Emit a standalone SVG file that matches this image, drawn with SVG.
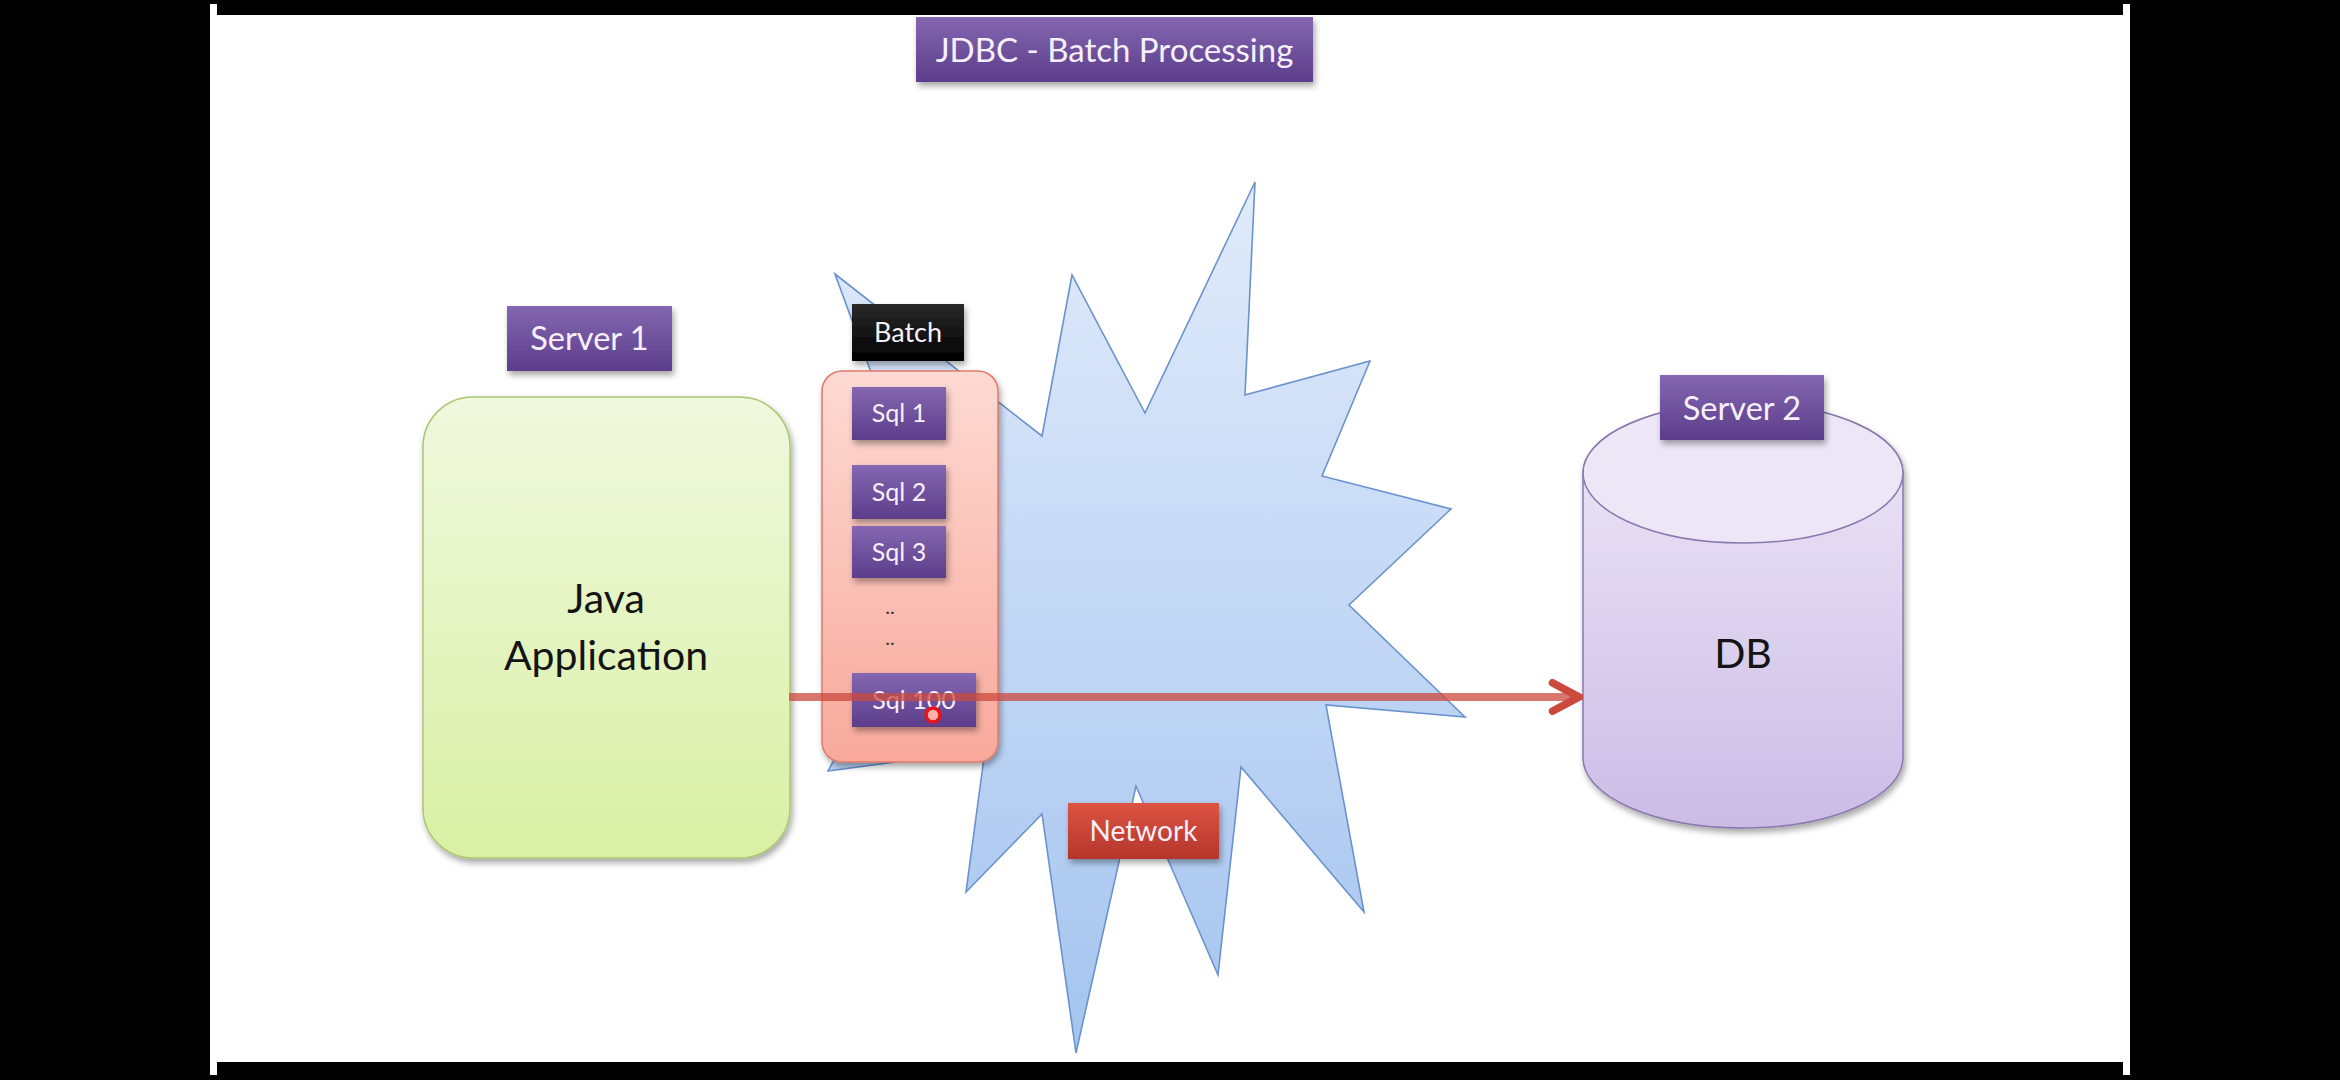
<svg xmlns="http://www.w3.org/2000/svg" width="2340" height="1080" viewBox="0 0 2340 1080">
  <defs>
    <linearGradient id="gPurple" x1="0" y1="0" x2="0" y2="1">
      <stop offset="0" stop-color="#8467b0"/>
      <stop offset="1" stop-color="#5c3d8b"/>
    </linearGradient>
    <linearGradient id="gRed" x1="0" y1="0" x2="0" y2="1">
      <stop offset="0" stop-color="#dc5443"/>
      <stop offset="1" stop-color="#b5352a"/>
    </linearGradient>
    <linearGradient id="gBlack" x1="0" y1="0" x2="0" y2="1">
      <stop offset="0" stop-color="#2a2a2a"/>
      <stop offset="1" stop-color="#000000"/>
    </linearGradient>
    <linearGradient id="gGreen" x1="0" y1="0" x2="0" y2="1">
      <stop offset="0" stop-color="#f0f8de"/>
      <stop offset="1" stop-color="#d9f0a4"/>
    </linearGradient>
    <linearGradient id="gPink" x1="0" y1="0" x2="0" y2="1">
      <stop offset="0" stop-color="#fddad3"/>
      <stop offset="1" stop-color="#f8a99c"/>
    </linearGradient>
    <linearGradient id="gBlue" x1="0" y1="0" x2="0" y2="1">
      <stop offset="0" stop-color="#e1ebfb"/>
      <stop offset="1" stop-color="#a4c4ef"/>
    </linearGradient>
    <linearGradient id="gLav" x1="0" y1="0" x2="0" y2="1">
      <stop offset="0" stop-color="#eee8f7"/>
      <stop offset="1" stop-color="#cbbce6"/>
    </linearGradient>
    <filter id="shadow" x="-10%" y="-20%" width="130%" height="160%">
      <feDropShadow dx="2" dy="4" stdDeviation="3" flood-color="#000" flood-opacity="0.35"/>
    </filter>
    <marker id="chev" viewBox="0 0 10 10" refX="9" refY="5" markerWidth="4.4" markerHeight="4.4" markerUnits="strokeWidth" orient="auto">
      <path d="M1.5,1 L9,5 L1.5,9" fill="none" stroke="#cb4a3e" stroke-width="2.2" stroke-linecap="round" stroke-linejoin="miter"/>
    </marker>
    <style>
      .lbl { font-family: Lato, "Noto Sans", "Liberation Sans", sans-serif; fill: #f6f0fb; text-anchor: middle; }
      .big { font-family: Lato, "Noto Sans", "Liberation Sans", sans-serif; fill: #141414; text-anchor: middle; font-size: 41px; }
      .tag { fill: url(#gPurple); filter: url(#shadow); }
      .sql { fill: url(#gPurple); filter: url(#shadow); }
      .sqlt { font-size: 25px; }
    </style>
  </defs>

  <!-- frame -->
  <rect x="0" y="0" width="2340" height="1080" fill="#000"/>
  <rect x="210" y="15" width="1920" height="1047" fill="#fff"/>
  <rect x="210" y="4" width="7" height="1071" fill="#fff"/>
  <rect x="2123" y="4" width="7" height="1071" fill="#fff"/>

  <!-- network starburst -->
  <g id="network-burst">
    <polygon points="835,274 1042,436 1072,275 1145,413 1255,182 1245,395 1370,361 1322,476 1451,509 1349,605 1465,717 1326,705 1364,912 1241,767 1218,975 1136,786 1076,1053 1042,814 966,892 985,750 828,771 940,560" fill="url(#gBlue)" stroke="#6a93cc" stroke-width="1.6" stroke-linejoin="miter"/>
  </g>

  <g id="title">
    <rect x="916" y="17" width="397" height="65" class="tag"/>
    <text x="1114.5" y="62" class="lbl" font-size="33">JDBC - Batch Processing</text>
  </g>

  <g id="server1-label">
    <rect x="507" y="306" width="165" height="65" class="tag"/>
    <text x="589.5" y="350" class="lbl" font-size="32.5">Server 1</text>
  </g>

  <g id="java-app">
    <rect x="423" y="397" width="367" height="461" rx="50" ry="50" fill="url(#gGreen)" stroke="#aac770" stroke-width="1.5" filter="url(#shadow)"/>
    <text x="606" y="613" class="big">Java</text>
    <text x="606" y="670" class="big">Application</text>
  </g>

  <g id="batch-label">
    <rect x="852" y="304" width="112" height="57" fill="url(#gBlack)" filter="url(#shadow)"/>
    <text x="908" y="342" class="lbl" font-size="27" fill="#fff">Batch</text>
  </g>

  <g id="batch">
    <rect x="822" y="371" width="176" height="391" rx="20" ry="20" fill="url(#gPink)" stroke="#e0796a" stroke-width="1.5" filter="url(#shadow)"/>
  </g>

  <g id="sql1">
    <rect x="852" y="387" width="94" height="53" class="sql"/>
    <text x="899" y="422" class="lbl sqlt">Sql 1</text>
  </g>
  <g id="sql2">
    <rect x="852" y="465" width="94" height="54" class="sql"/>
    <text x="899" y="501" class="lbl sqlt">Sql 2</text>
  </g>
  <g id="sql3">
    <rect x="852" y="526" width="94" height="52" class="sql"/>
    <text x="899" y="561" class="lbl sqlt">Sql 3</text>
  </g>
  <g id="dots">
    <text x="890" y="614" font-family="Lato, 'Noto Sans', sans-serif" font-size="20" fill="#333" text-anchor="middle">..</text>
    <text x="890" y="645" font-family="Lato, 'Noto Sans', sans-serif" font-size="20" fill="#333" text-anchor="middle">..</text>
  </g>
  <g id="sql100">
    <rect x="852" y="673" width="124" height="54" class="sql"/>
    <text x="914" y="709" class="lbl sqlt">Sql 100</text>
  </g>

  <g id="db">
    <path d="M1583,473 L1583,758 A160,70 0 0 0 1903,758 L1903,473 A160,70 0 0 0 1583,473 Z" fill="url(#gLav)" stroke="#8a78b0" stroke-width="1.5" filter="url(#shadow)"/>
    <ellipse cx="1743" cy="473" rx="160" ry="70" fill="#ece6f6" stroke="#8a78b0" stroke-width="1.5"/>
    <text x="1743" y="668" class="big" font-size="43">DB</text>
  </g>

  <g id="server2-label">
    <rect x="1660" y="375" width="164" height="65" class="tag"/>
    <text x="1742" y="420" class="lbl" font-size="32.5">Server 2</text>
  </g>

  <g id="network-label">
    <rect x="1068" y="803" width="151" height="56" fill="url(#gRed)" filter="url(#shadow)"/>
    <text x="1143.5" y="841" class="lbl" font-size="28" fill="#fff">Network</text>
  </g>

  <g id="connectors">
    <line x1="789" y1="697" x2="1579" y2="697" stroke="#cb4a3e" stroke-width="8" stroke-opacity="0.75" marker-end="url(#chev)"/>
  </g>

  <g id="pointer">
    <circle cx="933" cy="715" r="7" fill="#ffb0a8" stroke="#e4141a" stroke-width="3.5"/>
  </g>
</svg>
